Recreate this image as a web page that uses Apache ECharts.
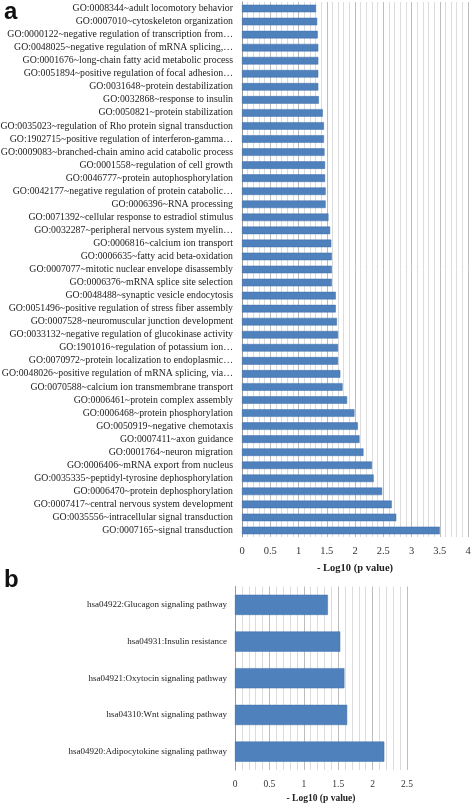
<!DOCTYPE html>
<html><head><meta charset="utf-8">
<script src="https://cdn.jsdelivr.net/npm/echarts@6/dist/echarts.min.js"></script>
<style>html,body{margin:0;padding:0;background:#fff}#c{width:472px;height:804px}</style>
</head><body><div id="c"></div>
<script>
const goTerms = [
 "GO:0008344~adult locomotory behavior",
 "GO:0007010~cytoskeleton organization",
 "GO:0000122~negative regulation of transcription from…",
 "GO:0048025~negative regulation of mRNA splicing,…",
 "GO:0001676~long-chain fatty acid metabolic process",
 "GO:0051894~positive regulation of focal adhesion…",
 "GO:0031648~protein destabilization",
 "GO:0032868~response to insulin",
 "GO:0050821~protein stabilization",
 "GO:0035023~regulation of Rho protein signal transduction",
 "GO:1902715~positive regulation of interferon-gamma…",
 "GO:0009083~branched-chain amino acid catabolic process",
 "GO:0001558~regulation of cell growth",
 "GO:0046777~protein autophosphorylation",
 "GO:0042177~negative regulation of protein catabolic…",
 "GO:0006396~RNA processing",
 "GO:0071392~cellular response to estradiol stimulus",
 "GO:0032287~peripheral nervous system myelin…",
 "GO:0006816~calcium ion transport",
 "GO:0006635~fatty acid beta-oxidation",
 "GO:0007077~mitotic nuclear envelope disassembly",
 "GO:0006376~mRNA splice site selection",
 "GO:0048488~synaptic vesicle endocytosis",
 "GO:0051496~positive regulation of stress fiber assembly",
 "GO:0007528~neuromuscular junction development",
 "GO:0033132~negative regulation of glucokinase activity",
 "GO:1901016~regulation of potassium ion…",
 "GO:0070972~protein localization to endoplasmic…",
 "GO:0048026~positive regulation of mRNA splicing, via…",
 "GO:0070588~calcium ion transmembrane transport",
 "GO:0006461~protein complex assembly",
 "GO:0006468~protein phosphorylation",
 "GO:0050919~negative chemotaxis",
 "GO:0007411~axon guidance",
 "GO:0001764~neuron migration",
 "GO:0006406~mRNA export from nucleus",
 "GO:0035335~peptidyl-tyrosine dephosphorylation",
 "GO:0006470~protein dephosphorylation",
 "GO:0007417~central nervous system development",
 "GO:0035556~intracellular signal transduction",
 "GO:0007165~signal transduction"
];
const goValues = [1.31,1.33,1.34,1.35,1.35,1.35,1.35,1.36,1.43,1.45,1.45,1.46,1.47,1.47,1.48,1.48,
 1.53,1.56,1.58,1.59,1.59,1.59,1.66,1.66,1.68,1.70,1.70,1.70,1.74,1.78,1.86,1.99,2.05,2.08,2.15,
 2.30,2.33,2.48,2.65,2.73,3.50];
const keggTerms = [
 "hsa04922:Glucagon signaling pathway",
 "hsa04931:Insulin resistance",
 "hsa04921:Oxytocin signaling pathway",
 "hsa04310:Wnt signaling pathway",
 "hsa04920:Adipocytokine signaling pathway"
];
const keggValues = [1.35,1.53,1.59,1.63,2.17];
const axisTitle = "- Log10 (p value)";

const serif = "'Liberation Serif','Times New Roman',serif";
const barColor = '#4F81BD';
function xAx(gi, max, gap, fs) {
  return {
    type:'value', gridIndex:gi, min:0, max:max, interval:0.5,
    name:axisTitle, nameLocation:'middle', nameGap:gap,
    nameTextStyle:{fontFamily:serif, fontWeight:'bold', fontSize:fs, color:'#222'},
    axisLine:{show:false}, axisTick:{show:false},
    axisLabel:{fontFamily:serif, fontSize:fs, color:'#333', margin:9,
      formatter:v=>String(+v.toFixed(1))},
    splitLine:{show:true, lineStyle:{color:'#bdbdbd', width:1}},
    minorTick:{show:false, splitNumber:5},
    minorSplitLine:{show:true, lineStyle:{color:'#dcdcdc', width:1}}
  };
}
function yAx(gi, cats, fs, margin) {
  return {
    type:'category', gridIndex:gi, data:cats, inverse:true,
    axisLine:{show:true, lineStyle:{color:'#9a9a9a'}}, axisTick:{show:false},
    axisLabel:{fontFamily:serif, fontSize:fs, color:'#222', margin:margin, interval:0}
  };
}
const chart = echarts.init(document.getElementById('c'), null, {renderer:'canvas'});
chart.setOption({
  animation:false,
  backgroundColor:'#fff',
  grid:[
    {left:242, right:4, top:2, height:535, containLabel:false, outerBoundsMode:'none'},
    {left:235, width:172, top:586.5, height:183.5, containLabel:false, outerBoundsMode:'none'}
  ],
  xAxis:[xAx(0,4,26,10.5), xAx(1,2.5,24,9.5)],
  yAxis:[yAx(0,goTerms,9.8,9), yAx(1,keggTerms,9,8)],
  series:[
    {type:'bar', xAxisIndex:0, yAxisIndex:0, data:goValues, barCategoryGap:'42%',
     itemStyle:{color:barColor, borderColor:'#3f6fa8', borderWidth:0.5}},
    {type:'bar', xAxisIndex:1, yAxisIndex:1, data:keggValues, barCategoryGap:'45%',
     itemStyle:{color:barColor, borderColor:'#3f6fa8', borderWidth:0.5}}
  ],
  graphic:[
    {type:'text', left:4, top:0, style:{text:'a', font:"bold 24px 'Liberation Sans',Arial,sans-serif", fill:'#111'}},
    {type:'text', left:4, top:568, style:{text:'b', font:"bold 24px 'Liberation Sans',Arial,sans-serif", fill:'#111'}}
  ]
});
</script></body></html>
